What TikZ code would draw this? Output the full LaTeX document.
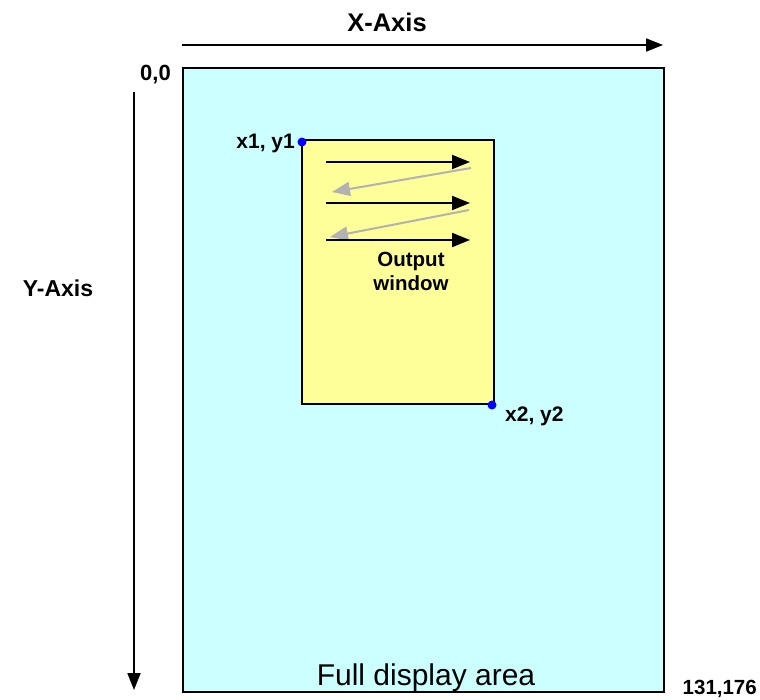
\documentclass[tikz,border=0pt]{standalone}
\usepackage{fontspec}
\setmainfont{Liberation Sans}
\usetikzlibrary{arrows.meta}
\definecolor{dispcyan}{HTML}{CCFFFF}
\definecolor{winyellow}{HTML}{FFFF99}
\definecolor{arrgrey}{HTML}{B2B2B2}
\tikzset{
  areabox/.style={draw=black,line width=1.8pt,fill=dispcyan,inner sep=0pt},
  winbox/.style={draw=black,line width=1.8pt,fill=winyellow,inner sep=0pt},
  axisarrow/.style={line width=1.8pt,-{Triangle[length=17pt,width=13pt]}},
  scanarrow/.style={line width=2pt,-{Triangle[length=18pt,width=14pt]}},
  backarrow/.style={draw=arrgrey,line width=2pt,-{Triangle[length=18pt,width=14pt]}},
  corner/.style={circle,fill=blue,inner sep=0pt,minimum size=9pt},
  lbl/.style={font=\bfseries,inner sep=0pt},
}
\begin{document}
\begin{tikzpicture}[x=1pt,y=-1pt]
\useasboundingbox (0,0) rectangle (760,699);
% full display area
\draw[areabox] (183,68) rectangle (664,692);
\node[inner sep=0pt,anchor=base,font=\fontsize{30}{34}\selectfont] (full) at (426,685) {Full display area};
% output window
\draw[winbox] (302,140) rectangle (494,404);
\node[corner] (c1) at (302,142) {};
\node[corner] (c2) at (492,405) {};
% axes
\coordinate (xa1) at (182,45);
\coordinate (xa2) at (663,45);
\coordinate (ya1) at (134,92);
\coordinate (ya2) at (134,690);
\draw[axisarrow] (xa1) -- (xa2);
\draw[axisarrow] (ya1) -- (ya2);
% scan arrows
\coordinate (a1s) at (326,162); \coordinate (a1e) at (470,162);
\coordinate (a2s) at (326,203); \coordinate (a2e) at (470,203);
\coordinate (a3s) at (326,240); \coordinate (a3e) at (470,240);
\coordinate (b1s) at (471,168); \coordinate (b1e) at (332,192);
\coordinate (b2s) at (469,210); \coordinate (b2e) at (330,237);
\draw[backarrow] (b1s) -- (b1e);
\draw[backarrow] (b2s) -- (b2e);
\draw[scanarrow] (a1s) -- (a1e);
\draw[scanarrow] (a2s) -- (a2e);
\draw[scanarrow] (a3s) -- (a3e);
% labels
\node[lbl,anchor=base,font=\bfseries\fontsize{25.5}{28}\selectfont] (xlab) at (387,31) {X-Axis};
\node[lbl,anchor=base,font=\bfseries\fontsize{23}{26}\selectfont] (ylab) at (58,296) {Y-Axis};
\node[lbl,anchor=base east,font=\bfseries\fontsize{22}{24}\selectfont] (origin) at (171,80) {0,0};
\node[lbl,anchor=base east,font=\bfseries\fontsize{21}{24}\selectfont] (p1) at (295,148) {x1, y1};
\node[lbl,anchor=base west,font=\bfseries\fontsize{21}{24}\selectfont] (p2) at (505,421) {x2, y2};
\node[lbl,anchor=base east,font=\bfseries\fontsize{20.5}{24}\selectfont] (endpt) at (757,694) {131,176};
\node[lbl,align=center,anchor=center,font=\bfseries\fontsize{20.5}{24}\selectfont] (outw) at (411,271) {Output\\window};
\end{tikzpicture}
\end{document}
